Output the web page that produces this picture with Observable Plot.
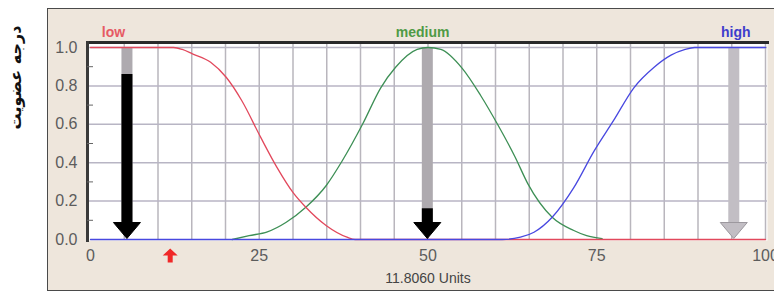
<!DOCTYPE html>
<html>
<head>
<meta charset="utf-8">
<script src="https://cdn.jsdelivr.net/npm/d3@7"></script>
<script src="https://cdn.jsdelivr.net/npm/@observablehq/plot@0.6"></script>
<style>
  html, body { margin: 0; padding: 0; background: #ffffff; overflow: hidden; }
  #wrap { position: relative; width: 774px; height: 294px; }
  #panel { position: absolute; left: 47px; top: 8px; width: 740px; height: 283px;
           background: #eee6dc; border: 1.5px solid #4a4a4a; box-sizing: border-box; }
  #chart { position: absolute; left: 0; top: 0; }
</style>
</head>
<body>
<div id="wrap"><div id="panel"></div><div id="chart"></div></div>
<script>
// ---- data ----
const lowX  = [0, 10, 12.3, 13.6, 15.1, 17.8, 20.1, 22.4, 25.2, 27.6, 30.1, 31.9, 34.9, 38.0, 39.2, 100];
const lowY  = [1, 1, 1, 0.99, 0.967, 0.923, 0.845, 0.724, 0.533, 0.377, 0.24, 0.168, 0.073, 0.012, 0, 0];

const medX  = [21.0, 23.5, 26.2, 29.0, 31.9, 34.9, 37.3, 40.3, 43.0, 45.2, 48.4, 50, 51.9, 55.1, 57.8, 60.3, 62.9, 64.8, 68.4, 71.6, 73.5, 75.8];
const medY  = [0.0, 0.02, 0.04, 0.09, 0.168, 0.28, 0.41, 0.60, 0.79, 0.897, 0.99, 1.0, 0.99, 0.89, 0.75, 0.60, 0.43, 0.29, 0.116, 0.047, 0.02, 0.004];

const highX = [0, 61, 63.7, 65.7, 68.4, 71.6, 74.6, 77.5, 80.5, 83.5, 86.0, 88.1, 89.5, 100];
const highY = [0, 0, 0.012, 0.038, 0.116, 0.27, 0.46, 0.62, 0.79, 0.897, 0.96, 0.99, 1, 1];

const termNames  = ["low", "medium", "high"];
const termLabelX = [3.4, 49.2, 95.6];
const termColors = ["#e65a64", "#4f9a45", "#3d3dcc"];
const curveColors = ["#e2485c", "#3d8f55", "#4848e0"];

const arrowX    = [5.4, 49.9, 95.3];   // positions of the output arrows
const arrowFire = [0.86, 0.16, 0];      // top of the black (fired) part
const arrowHeadTop = 0.088;

const crispValue = 11.806;
const unitLabel = "11.8060 Units";
const yTitle = "درجه عضویت";

const xTicks = [0, 25, 50, 75, 100];
const xGrid  = d3.range(5, 101, 5);
const yTicks = [0, 0.2, 0.4, 0.6, 0.8, 1.0];
const yMinor = [0.1, 0.3, 0.5, 0.7, 0.9];

// ---- derived tables ----
const toRows = (xs, ys) => xs.map((x, i) => ({x, y: ys[i]}));
const low = toRows(lowX, lowY), med = toRows(medX, medY), high = toRows(highX, highY);
const arrows = arrowX.map((x, i) => ({x, fire: arrowFire[i], black: arrowFire[i] > 0}));
const terms = termNames.map((t, i) => ({t, x: termLabelX[i], c: termColors[i]}));

// custom symbols
const downHead = {draw(ctx) { ctx.moveTo(-13.5, -17); ctx.lineTo(13.5, -17); ctx.lineTo(0, -1); ctx.closePath(); }};
const upArrow = {draw(ctx) {
  ctx.moveTo(0, -7); ctx.lineTo(7.5, 0); ctx.lineTo(2.5, 0); ctx.lineTo(2.5, 7);
  ctx.lineTo(-2.5, 7); ctx.lineTo(-2.5, 0); ctx.lineTo(-7.5, 0); ctx.closePath(); }};

const chart = Plot.plot({
  width: 774, height: 294,
  marginLeft: 87, marginRight: 7, marginTop: 42, marginBottom: 54,
  style: {background: "transparent", fontFamily: "'Liberation Sans', Arial, sans-serif", overflow: "visible"},
  x: {domain: [0, 100], range: [90, 765], label: null},
  y: {domain: [0, 1], range: [239, 47], label: null},
  marks: [
    Plot.frame({fill: "#ffffff", stroke: "none"}),
    Plot.ruleX(xGrid, {stroke: "#b9b6bd", strokeWidth: 1.5}),
    Plot.ruleY(yTicks.filter(d => d > 0), {stroke: "#b8b5c4", strokeWidth: 1.5}),
    Plot.frame({anchor: "top", stroke: "#2a2a2a", strokeWidth: 3}),
    Plot.frame({anchor: "left", stroke: "#3a3a3a", strokeWidth: 3}),
    Plot.axisY({ticks: yMinor, tickSize: 6, dx: 6, tickFormat: () => "", stroke: "#666"}),
    Plot.axisY({ticks: yTicks, tickFormat: d3.format(".1f"), tickSize: 0, tickPadding: 10, fontSize: 16, color: "#5c5c5c"}),
    Plot.axisX({ticks: xTicks, tickSize: 0, tickPadding: 9, fontSize: 16, color: "#5c5c5c"}),
    // output arrows: shafts
    Plot.ruleX(arrows, {x: "x", y1: 1, y2: arrowHeadTop, stroke: d => d.black ? "#aeaaaf" : "#c2bec4", strokeWidth: 11}),
    Plot.ruleX(arrows.filter(d => d.black), {x: "x", y1: "fire", y2: arrowHeadTop, stroke: "#000", strokeWidth: 11}),
    // membership curves
    Plot.line(med, {x: "x", y: "y", stroke: curveColors[1], strokeWidth: 1.3, curve: "monotone-x"}),
    Plot.line(low, {x: "x", y: "y", stroke: curveColors[0], strokeWidth: 1.3, curve: "monotone-x"}),
    Plot.line(high, {x: "x", y: "y", stroke: curveColors[2], strokeWidth: 1.3, curve: "monotone-x"}),
    // arrow heads
    Plot.dot(arrows, {x: "x", y: 0, symbol: downHead, fill: d => d.black ? "#000" : "#c2bec4",
      stroke: d => d.black ? "#000" : "#9c989e", strokeWidth: 1, r: 5}),
    // crisp value marker
    Plot.dot([crispValue], {x: d => d, frameAnchor: "bottom", dy: 15, symbol: upArrow, fill: "#f02828", stroke: "none", r: 5}),
    // term labels
    Plot.text(terms, {x: "x", text: "t", fill: "c", frameAnchor: "top", dy: -15, fontSize: 14, fontWeight: 600}),
    // units label
    Plot.text([unitLabel], {text: d => d, frameAnchor: "bottom", x: [50], dy: 42, fontSize: 14, fill: "#444"}),
    // y title
    Plot.text([yTitle], {text: d => d, frameAnchor: "top-left", textAnchor: "middle", lineAnchor: "middle",
      dx: -72, dy: 35, rotate: -90, fontSize: 16, fontWeight: "bold", fill: "#111", fontFamily: "DejaVu Sans",
      letterSpacing: "1px"})
  ]
});
document.getElementById("chart").append(chart);
</script>
</body>
</html>
